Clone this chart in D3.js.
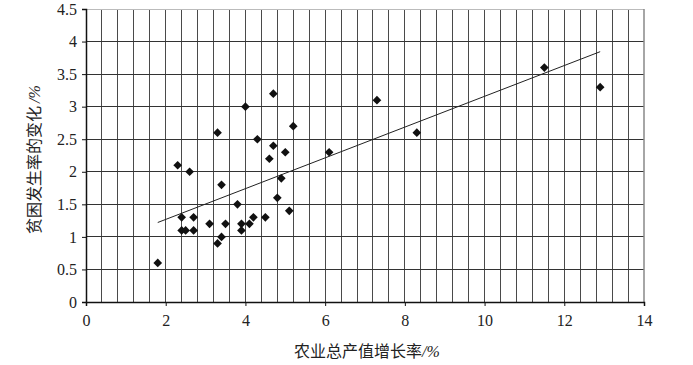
<!DOCTYPE html>
<html>
<head>
<meta charset="utf-8">
<script src="https://cdn.jsdelivr.net/npm/d3@7"></script>
<style>
  body { margin: 0; background: #fff; }
</style>
</head>
<body>
<svg id="chart" width="693" height="365"></svg>
<script>
// data
const growthRate = [1.8, 2.3, 2.4, 2.4, 2.5, 2.6, 2.7, 2.7, 3.1, 3.3, 3.3, 3.4, 3.4, 3.5,
  3.8, 3.9, 3.9, 4.0, 4.1, 4.2, 4.3, 4.5, 4.6, 4.7, 4.7, 4.8, 4.9, 5.0, 5.1, 5.2,
  6.1, 7.3, 8.3, 11.5, 12.9];
const povertyChange = [0.6, 2.1, 1.3, 1.1, 1.1, 2.0, 1.3, 1.1, 1.2, 0.9, 2.6, 1.0, 1.8, 1.2,
  1.5, 1.2, 1.1, 3.0, 1.2, 1.3, 2.5, 1.3, 2.2, 2.4, 3.2, 1.6, 1.9, 2.3, 1.4, 2.7,
  2.3, 3.1, 2.6, 3.6, 3.3];
const xTicks = [0, 2, 4, 6, 8, 10, 12, 14];
const yTicks = [0, 0.5, 1, 1.5, 2, 2.5, 3, 3.5, 4, 4.5];
const xTitle = '农业总产值增长率';
const yTitle = '贫困发生率的变化';
const unit = '/%';

const serif = "'Liberation Serif', 'Times New Roman', Times, serif";
const cjk = "'Noto Sans CJK SC', sans-serif";

const svg = d3.select('#chart');
const margin = {left: 86, right: 49, top: 9, bottom: 63};
const width = 693 - margin.left - margin.right;
const height = 365 - margin.top - margin.bottom;

const x = d3.scaleLinear().domain([0, 14]).range([0, width]);
const y = d3.scaleLinear().domain([0, 4.5]).range([height, 0]);

const g = svg.append('g')
  .attr('transform', `translate(${margin.left},${margin.top})`);

// vertical minor grid every 0.4
const vGrid = d3.range(0.4, 14 - 1e-6, 0.4);
g.append('g').selectAll('line')
  .data(vGrid).join('line')
    .attr('x1', d => x(d)).attr('x2', d => x(d))
    .attr('y1', 0).attr('y2', height)
    .attr('stroke', '#4a4a4a').attr('stroke-width', 1)
    .attr('shape-rendering', 'crispEdges');

// horizontal grid
g.append('g').selectAll('line')
  .data(yTicks.slice(1)).join('line')
    .attr('x1', 0).attr('x2', width)
    .attr('y1', d => y(d)).attr('y2', d => y(d))
    .attr('stroke', d => d === 4.5 ? '#bbb' : '#333').attr('stroke-width', 1)
    .attr('shape-rendering', 'crispEdges');

// right border
g.append('line')
  .attr('x1', width).attr('x2', width).attr('y1', 0).attr('y2', height)
  .attr('stroke', '#888').attr('stroke-width', 1.5);

// axes
const xAxis = g.append('g')
  .attr('transform', `translate(0,${height})`)
  .call(d3.axisBottom(x).tickValues(xTicks).tickSize(4).tickPadding(9).tickFormat(d3.format('d')));
const yAxis = g.append('g')
  .call(d3.axisLeft(y).tickValues(yTicks).tickSize(4).tickPadding(5).tickFormat(d => d));

[xAxis, yAxis].forEach(a => {
  a.attr('font-family', null).attr('font-size', null);
  a.select('.domain').attr('stroke', '#111').attr('stroke-width', 1.5);
  a.selectAll('.tick line').attr('stroke', '#111');
  a.selectAll('.tick text')
    .attr('fill', '#222')
    .style('font-family', serif)
    .style('font-size', '16px');
});

// trend line (least squares)
const pts = growthRate.map((v, i) => [v, povertyChange[i]]);
const mx = d3.mean(growthRate), my = d3.mean(povertyChange);
const slope = d3.sum(pts, p => (p[0] - mx) * (p[1] - my)) / d3.sum(pts, p => (p[0] - mx) ** 2);
const icpt = my - slope * mx;
const xExt = d3.extent(growthRate);
g.append('line')
  .attr('x1', x(xExt[0])).attr('y1', y(icpt + slope * xExt[0]))
  .attr('x2', x(xExt[1])).attr('y2', y(icpt + slope * xExt[1]))
  .attr('stroke', '#222').attr('stroke-width', 1);

// points as diamonds
const diamond = d3.symbol().type(d3.symbolDiamond2).size(48);
g.append('g').selectAll('path')
  .data(pts).join('path')
    .attr('d', diamond)
    .attr('transform', d => `translate(${x(d[0])},${y(d[1])})`)
    .attr('fill', '#111');

// axis titles
const xt = svg.append('text')
  .attr('x', margin.left + width / 2 + 2).attr('y', 357)
  .attr('text-anchor', 'middle')
  .attr('fill', '#222')
  .style('font-size', '16px');
xt.append('tspan').style('font-family', cjk).text(xTitle);
xt.append('tspan').style('font-family', serif).style('font-style', 'italic').text(unit);

const yt = svg.append('text')
  .attr('transform', `translate(40,${margin.top + height / 2 + 4}) rotate(-90)`)
  .attr('text-anchor', 'middle')
  .attr('fill', '#222')
  .style('font-size', '16px');
yt.append('tspan').style('font-family', cjk).text(yTitle);
yt.append('tspan').style('font-family', serif).style('font-style', 'italic').attr('dx', 3).text(unit);
</script>
</body>
</html>
